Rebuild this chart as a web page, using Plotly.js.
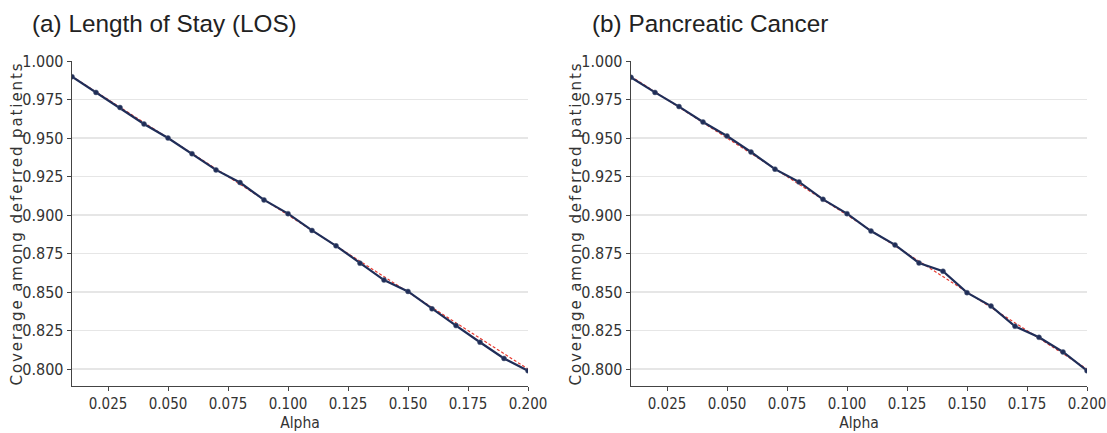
<!DOCTYPE html>
<html>
<head>
<meta charset="utf-8">
<script src="https://cdn.plot.ly/plotly-3.0.1.min.js"></script>
<style>
html,body{margin:0;padding:0;background:#fff;}
#chart{width:1107px;height:433px;}
/* wider tracking for the rotated axis titles, nudged toward the tick labels */
#chart .g-ytitle text, #chart .g-y2title text{letter-spacing:1.9px;}
#chart .g-ytitle, #chart .g-y2title{transform:translate(9px,0);}
</style>
</head>
<body>
<div id="chart"></div>
<script>
// Significance levels shared by both panels
const alpha = [0.01,0.02,0.03,0.04,0.05,0.06,0.07,0.08,0.09,0.10,0.11,0.12,0.13,0.14,0.15,0.16,0.17,0.18,0.19,0.20];
// Target coverage 1 - alpha
const target = [0.99,0.98,0.97,0.96,0.95,0.94,0.93,0.92,0.91,0.90,0.89,0.88,0.87,0.86,0.85,0.84,0.83,0.82,0.81,0.80];
// Empirical coverage among deferred patients
const losCoverage = [0.9898,0.9796,0.9698,0.9591,0.9500,0.9398,0.9293,0.9211,0.9098,0.9009,0.8900,0.8800,0.8687,0.8578,0.8504,0.8391,0.8282,0.8174,0.8069,0.7989];
const pancCoverage = [0.9894,0.9796,0.9704,0.9604,0.9513,0.9409,0.9298,0.9215,0.9102,0.9009,0.8896,0.8806,0.8689,0.8635,0.8496,0.8409,0.8278,0.8206,0.8111,0.7989];
const panelTitles = ['(a) Length of Stay (LOS)', '(b) Pancreatic Cancer'];
const xTitle = 'Alpha';
const yTitle = 'Coverage among deferred patients';

const navy = '#1f2d58';
const red = '#e8392f';
const condensed = 'DejaVu Sans Condensed, DejaVu Sans';

function panelTraces(y, xa, ya) {
  return [
    {x: alpha, y: target, xaxis: xa, yaxis: ya, mode: 'lines', type: 'scatter',
     line: {color: red, width: 1.2, dash: '3px,2px'}, hoverinfo: 'skip'},
    {x: alpha, y: y, xaxis: xa, yaxis: ya, mode: 'lines+markers', type: 'scatter',
     line: {color: navy, width: 2.2}, marker: {color: navy, size: 5, line: {color: '#55607a', width: 0.5}}}
  ];
}

const data = [].concat(panelTraces(losCoverage, 'x', 'y'), panelTraces(pancCoverage, 'x2', 'y2'));

function xAxis(domain, anchor) {
  return {domain: domain, anchor: anchor, range: [0.01, 0.2], dtick: 0.025, tick0: 0, tickformat: '.3f',
    showgrid: false, zeroline: false, showline: true, linecolor: '#444', linewidth: 1.3,
    ticks: 'outside', ticklen: 4, tickcolor: '#444', tickfont: {family: condensed, size: 15, color: '#333'},
    title: {text: xTitle, font: {family: condensed, size: 15.5, color: '#333'}, standoff: 5}};
}
function yAxis(anchor) {
  return {domain: [1 - 386/433, 1 - 61/433], anchor: anchor, range: [0.789, 1.0], dtick: 0.025, tick0: 0, tickformat: '.3f',
    showgrid: true, gridcolor: '#e6e6e6', gridwidth: 1.3, zeroline: false, showline: true, linecolor: '#444', linewidth: 1.3,
    ticks: 'outside', ticklen: 4, tickcolor: '#444', tickfont: {family: condensed, size: 16, color: '#333'},
    title: {text: yTitle, font: {family: 'DejaVu Sans', size: 15, color: '#333'}, standoff: 5}};
}

function panelTitle(text, xPx) {
  return {text: text, xref: 'paper', yref: 'paper', x: xPx/1107, y: 1 - 23/433, xanchor: 'left', yanchor: 'middle',
    showarrow: false, font: {family: 'Liberation Sans, Arial', size: 24.3, color: '#222'}};
}

const layout = {
  width: 1107, height: 433,
  margin: {l: 0, r: 0, t: 0, b: 0},
  paper_bgcolor: '#fff', plot_bgcolor: '#fff',
  showlegend: false,
  xaxis: xAxis([72/1107, 528/1107], 'y'),
  yaxis: yAxis('x'),
  xaxis2: xAxis([631/1107, 1087/1107], 'y2'),
  yaxis2: yAxis('x2'),
  annotations: [panelTitle(panelTitles[0], 30), panelTitle(panelTitles[1], 590)]
};

Plotly.newPlot('chart', data, layout, {displayModeBar: false, staticPlot: true});
</script>
</body>
</html>
